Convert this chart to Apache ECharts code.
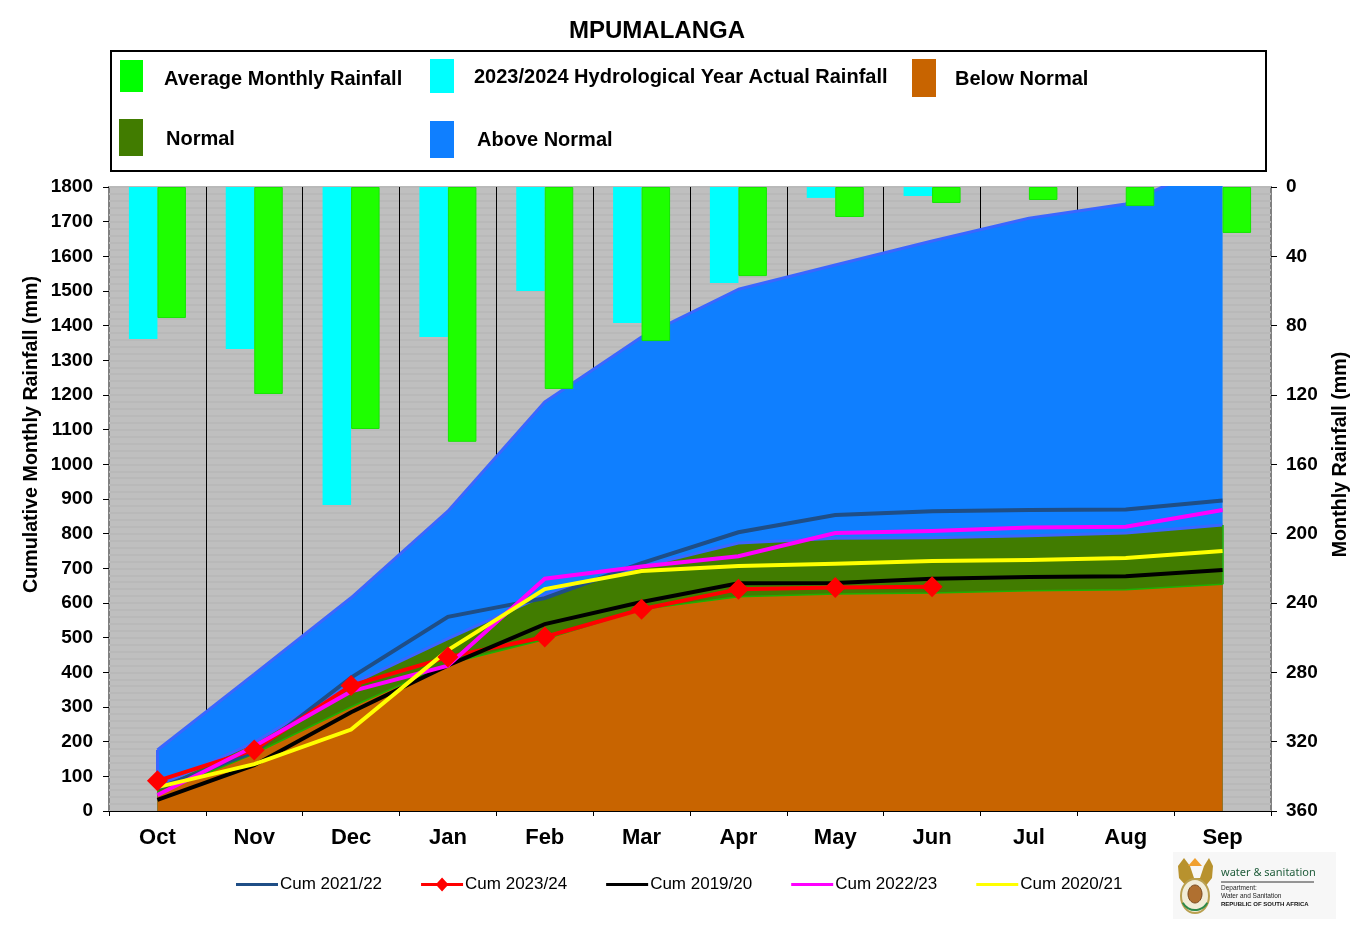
<!DOCTYPE html>
<html><head><meta charset="utf-8">
<style>html,body{margin:0;padding:0;background:#fff}#c{width:1366px;height:934px}</style>
<script src="https://cdn.jsdelivr.net/npm/echarts@6/dist/echarts.min.js"></script>
</head><body><div id="c"></div>
<script>
const months=['Oct','Nov','Dec','Jan','Feb','Mar','Apr','May','Jun','Jul','Aug','Sep'];
const leftTicksMax=1800, rightTicksMax=360;
const aboveNormal=[176,395,615,865,1180,1367,1505,1575,1644,1710,1751,1880];
const normal=[70,198,365,497,623,705,773,787,788,794,802,825];
const belowNormal=[50,165,300,425,495,582,618,626,629,635,638,654];
const avgMonthly=[75.6,119.4,139.6,147,116.5,88.9,51.4,17.3,9.2,7.5,11,26.5];
const actual2324=[87.7,93.5,183.5,86.5,60,78.5,55.4,6.3,5.2,null,null,null];
const cum2122=[65,170,385,560,614,715,804,854,865,868,870,896];
const cum2324=[87,176,362,444,502,582,640,645,647,null,null,null];
const cum1920=[32,132,285,420,539,603,657,658,670,675,677,695];
const cum2223=[46,187,345,419,670,705,735,802,808,818,820,868];
const cum2021=[69,135,235,464,640,692,707,713,721,724,730,750];

const F='"Liberation Sans",Arial,sans-serif';
const BL='#0f7fff',EDGE='#3a66ff',GR='#417c00',BR='#c86400',GE='#1eb000';
const ICON_LINE='path://M0,0L0.01,0L0,0ZM0,5.4H42V8.6H0ZM0,14L0.01,14L0,14Z';
const ICON_RED='path://M0,5.4H16L21,0L26,5.4H42V8.6H26L21,14L16,8.6H0Z';

function area(name,data,fill,edge,w,extra){
  return Object.assign({name,type:'line',z:2,data,symbol:'none',showSymbol:false,
    lineStyle:{color:edge,width:w},itemStyle:{color:fill},areaStyle:{color:fill,opacity:1},
    silent:true,animation:false},extra||{});
}
function edgeLine(i,lo,hi,color,w){
  return [{xAxis:months[i],yAxis:lo},{xAxis:months[i],yAxis:hi,lineStyle:{color,width:w}}];
}
function edges(lo,hi,color,w){
  return {silent:true,symbol:'none',animation:false,label:{show:false},lineStyle:{type:'solid',color,width:w},
    data:[edgeLine(0,lo[0],hi[0],color,w),edgeLine(11,lo[11],hi[11],color,w)]};
}
function line(name,data,color,w,extra){
  return Object.assign({name,type:'line',z:5,data,symbol:'none',showSymbol:false,connectNulls:false,
    lineStyle:{color,width:w,join:'miter',cap:'butt'},itemStyle:{color},silent:true,animation:false},extra||{});
}
function boxLegend(name,left,top,w,h,color,pad,padTop){
  const bold={fontFamily:F,fontWeight:'bold',fontSize:20,color:'#000'};
  return {show:true,selectedMode:false,left,top,orient:'horizontal',padding:0,itemWidth:w,itemHeight:h,
    formatter:n=>'{a|'+n+'}',
    data:[{name,icon:'rect',itemStyle:{color,borderWidth:0,opacity:1}}],
    textStyle:Object.assign({},bold,{padding:[0,0,0,pad],rich:{a:Object.assign({},bold,{padding:[padTop,0,0,0]})}})};
}
function logo(){
  const g=[];
  g.push({type:'rect',shape:{x:1173,y:852,width:163,height:67},style:{fill:'#f7f7f7'},silent:true});
  g.push({type:'polygon',shape:{points:[[1178,866],[1184,858],[1190,866],[1194,878],[1200,878],[1204,866],[1209,858],[1213,866],[1212,878],[1204,888],[1188,888],[1179,878]]},style:{fill:'#b8922e'},silent:true});
  g.push({type:'polygon',shape:{points:[[1188,866],[1195,858],[1202,866]]},style:{fill:'#f0a030'},silent:true});
  g.push({type:'ellipse',shape:{cx:1195,cy:896,rx:14,ry:17},style:{fill:'#f2edd8',stroke:'#b9a050',lineWidth:2},silent:true});
  g.push({type:'ellipse',shape:{cx:1195,cy:894,rx:7,ry:9},style:{fill:'#b07030',stroke:'#7a4a20',lineWidth:1},silent:true});
  g.push({type:'arc',shape:{cx:1195,cy:896,r:14,startAngle:0.5,endAngle:2.64},style:{stroke:'#2f8a4a',lineWidth:2,fill:null},silent:true});
  g.push({type:'text',style:{x:1221,y:867,text:'water & sanitation',font:'11px "Noto Sans",sans-serif',fill:'#1f5c3a'},silent:true});
  g.push({type:'line',shape:{x1:1221,y1:882,x2:1314,y2:882},style:{stroke:'#333',lineWidth:1},silent:true});
  g.push({type:'text',style:{x:1221,y:885,text:'Department:',font:'6.5px '+F,fill:'#222'},silent:true});
  g.push({type:'text',style:{x:1221,y:893,text:'Water and Sanitation',font:'6.5px '+F,fill:'#222'},silent:true});
  g.push({type:'text',style:{x:1221,y:901,text:'REPUBLIC OF SOUTH AFRICA',font:'bold 6px '+F,fill:'#111'},silent:true});
  return g;
}
const chart=echarts.init(document.getElementById('c'),null,{renderer:'canvas'});
chart.setOption({
  animation:false,backgroundColor:'#fff',
  title:{text:'MPUMALANGA',left:657,top:19,textAlign:'center',padding:0,
    textStyle:{fontFamily:F,fontWeight:'bold',fontSize:24,color:'#000'}},
  grid:{left:109,right:95,top:187,bottom:123,show:true,backgroundColor:'#bfbfbf',borderColor:'#808080',borderWidth:2},
  legend:[
    boxLegend('Average Monthly Rainfall',120,60,23,32,'#00ff00',16,6),
    boxLegend('2023/2024 Hydrological Year Actual Rainfall',430,59,24,34,'#00ffff',15,2),
    boxLegend('Below Normal',912,59,24,38,BR,14,2),
    boxLegend('Normal',119,119,24,37,GR,18,4),
    boxLegend('Above Normal',430,121,24,37,BL,18,2),
    {show:true,selectedMode:false,left:236,top:876,padding:0,itemWidth:42,itemHeight:14,itemGap:39,
     data:[{name:'Cum 2021/22',icon:ICON_LINE},{name:'Cum 2023/24',icon:ICON_RED},{name:'Cum 2019/20',icon:ICON_LINE},{name:'Cum 2022/23',icon:ICON_LINE},{name:'Cum 2020/21',icon:ICON_LINE}],
     textStyle:{fontFamily:F,fontSize:17,color:'#000',padding:[0,0,0,-3]}}
  ],
  xAxis:{type:'category',data:months,boundaryGap:true,
    axisLine:{show:true,onZero:false,lineStyle:{color:'#000',width:1}},
    axisTick:{show:true,length:5,lineStyle:{color:'#000',width:1}},
    axisLabel:{show:true,interval:0,fontFamily:F,fontWeight:'bold',fontSize:22,color:'#000',margin:16},
    splitLine:{show:true,interval:0,showMinLine:false,showMaxLine:false,lineStyle:{color:'#000',width:1}}},
  yAxis:[
    {type:'value',min:0,max:leftTicksMax,interval:100,
     axisLine:{show:false},axisTick:{show:true,length:6,lineStyle:{color:'#000'}},
     axisLabel:{fontFamily:F,fontWeight:'bold',fontSize:19,color:'#000',margin:16,padding:[3,0,0,0],formatter:v=>String(v)},
     minorTick:{show:false,splitNumber:5},
     splitLine:{show:true,lineStyle:{color:'#b9b9b9',width:2}},
     minorSplitLine:{show:true,lineStyle:{color:'#b9b9b9',width:2}}},
    {type:'value',min:0,max:rightTicksMax,interval:40,inverse:true,position:'right',
     axisLine:{show:false},axisTick:{show:true,length:6,lineStyle:{color:'#000'}},
     axisLabel:{fontFamily:F,fontWeight:'bold',fontSize:19,color:'#000',margin:15,padding:[3,0,0,0],formatter:v=>String(v)},
     splitLine:{show:false}}
  ],
  graphic:[
    {type:'rect',shape:{x:111,y:51,width:1155,height:120},style:{fill:'#fff',stroke:'#000',lineWidth:2},z:-1,silent:true},
    {type:'rect',shape:{x:109,y:180,width:1162,height:6},style:{fill:'#fff'},z:50,silent:true},
    {type:'text',x:31.5,y:434.5,rotation:Math.PI/2,style:{text:'Cumulative Monthly Rainfall (mm)',font:'bold 19.7px '+F,fill:'#000',textAlign:'center',textVerticalAlign:'middle'},silent:true},
    {type:'text',x:1340.5,y:454.5,rotation:Math.PI/2,style:{text:'Monthly Rainfall (mm)',font:'bold 19.7px '+F,fill:'#000',textAlign:'center',textVerticalAlign:'middle'},silent:true}
  ].concat(logo()),
  series:[
    area('Above Normal',aboveNormal,BL,EDGE,3,{markLine:edges(normal,aboveNormal,EDGE,3)}),
    area('Normal',normal,GR,EDGE,3,{markLine:edges(belowNormal,normal,GE,1.5)}),
    area('Below Normal',belowNormal,BR,GE,1.5),
    {name:'2023/2024 Hydrological Year Actual Rainfall',type:'bar',z:4,yAxisIndex:1,data:actual2324,barWidth:28.5,barGap:'0%',
     itemStyle:{color:'#00ffff'},silent:true,animation:false},
    {name:'Average Monthly Rainfall',type:'bar',z:4,yAxisIndex:1,data:avgMonthly,barWidth:28.5,barGap:'0%',
     itemStyle:{color:'#1eff00',borderColor:'#14e600',borderWidth:1},silent:true,animation:false},
    line('Cum 2021/22',cum2122,'#1f4e86',4),
    line('Cum 2023/24',cum2324,'#ff0000',4,{symbol:'diamond',showSymbol:true,symbolSize:21}),
    line('Cum 2019/20',cum1920,'#000000',4),
    line('Cum 2022/23',cum2223,'#ff00ff',4),
    line('Cum 2020/21',cum2021,'#ffff00',4)
  ]
});
</script></body></html>
